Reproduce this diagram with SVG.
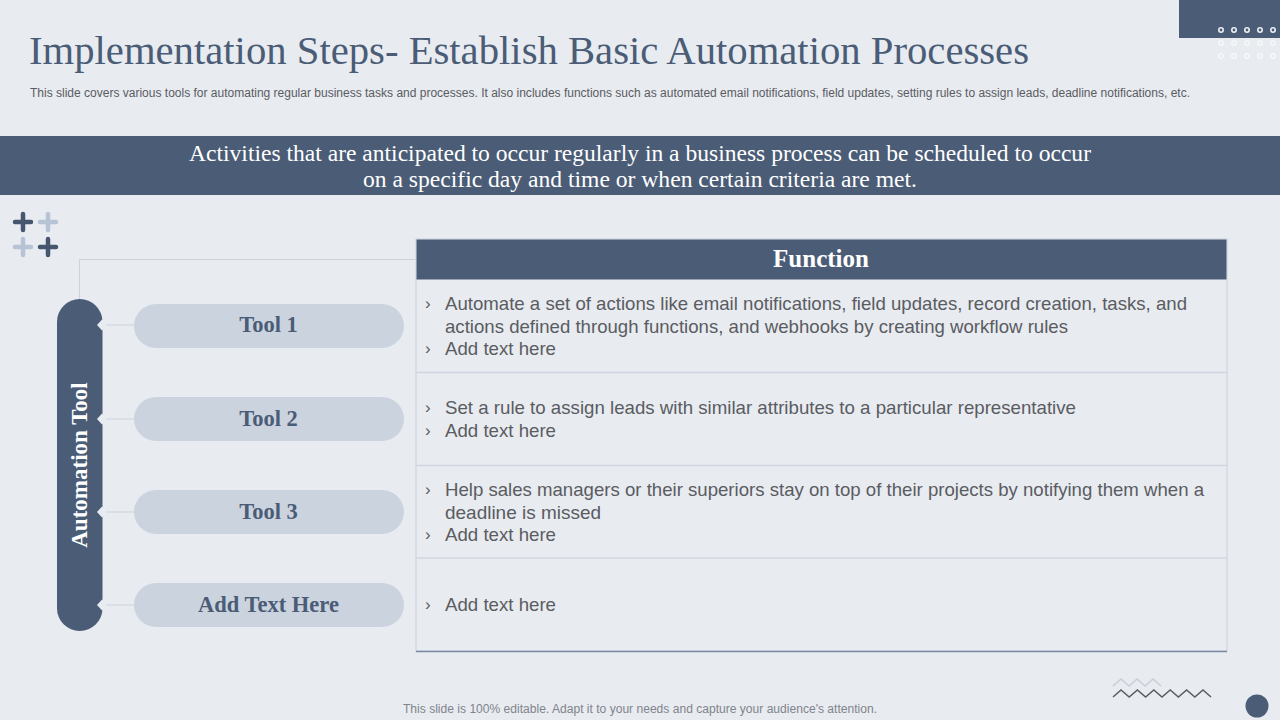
<svg xmlns="http://www.w3.org/2000/svg" width="1280" height="720" viewBox="0 0 1280 720">
<style>
.s{font-family:"Liberation Sans",Arial,sans-serif}
.f{font-family:"Liberation Serif","Times New Roman",serif}
.b{font-family:"Liberation Sans",Arial,sans-serif;font-size:19px;fill:#5a5c62}
.c{font-family:"Liberation Sans",Arial,sans-serif;font-size:17px;fill:#5a5c62}
.t{font-family:"Liberation Serif",serif;font-size:22.500px;font-weight:700;fill:#4a5c76;text-anchor:middle}
.pill{fill:#cbd3df}
.lnk{fill:none;stroke:#cdd2da;stroke-width:1}
.dm{fill:#e8ebf1}
.row{fill:none;stroke:#d0d6e0;stroke-width:1.3}
.d1{fill:none;stroke:#eef0f4;stroke-width:1.6}
.d2{fill:none;stroke:#f6f7f9;stroke-width:1.6}
.dk{fill:none;stroke:#46566f;stroke-width:4.500;stroke-linecap:round}
.lt{fill:none;stroke:#b6c3d5;stroke-width:4.500;stroke-linecap:round}
</style>
<rect width="1280" height="720" fill="#e8ebf0"/>
<g id="header">
<rect x="1179" y="0" width="101" height="38" fill="#4a5c76"/>
<g class="d1"><circle cx="1221" cy="30" r="2.2"/><circle cx="1234" cy="30" r="2.2"/><circle cx="1247" cy="30" r="2.2"/><circle cx="1260" cy="30" r="2.2"/><circle cx="1273" cy="30" r="2.2"/></g>
<g class="d2"><circle cx="1221" cy="43" r="2.2"/><circle cx="1234" cy="43" r="2.2"/><circle cx="1247" cy="43" r="2.2"/><circle cx="1260" cy="43" r="2.2"/><circle cx="1273" cy="43" r="2.2"/><circle cx="1221" cy="56" r="2.2"/><circle cx="1234" cy="56" r="2.2"/><circle cx="1247" cy="56" r="2.2"/><circle cx="1260" cy="56" r="2.2"/><circle cx="1273" cy="56" r="2.2"/></g>
<text x="29" y="64" class="f" font-size="40" fill="#4a5c76" textLength="1000" lengthAdjust="spacingAndGlyphs">Implementation Steps- Establish Basic Automation Processes</text>
<text x="30" y="97" class="s" font-size="12.500" fill="#5a5c62" textLength="1160" lengthAdjust="spacingAndGlyphs">This slide covers various tools for automating regular business tasks and processes. It also includes functions such as automated email notifications, field updates, setting rules to assign leads, deadline notifications, etc.</text>
</g>
<g id="banner">
<rect x="0" y="136" width="1280" height="59" fill="#4a5c76"/>
<text x="640" y="160.500" class="f" font-size="24" fill="#fff" text-anchor="middle" textLength="902" lengthAdjust="spacingAndGlyphs">Activities that are anticipated to occur regularly in a business process can be scheduled to occur</text>
<text x="640" y="186.500" class="f" font-size="24" fill="#fff" text-anchor="middle" textLength="554" lengthAdjust="spacingAndGlyphs">on a specific day and time or when certain criteria are met.</text>
</g>
<g id="plus-icons">
<path class="dk" d="M15 222H31M23 214V230M40 247H56M48 239V255"/>
<path class="lt" d="M40 222H56M48 214V230M15 247H31M23 239V255"/>
</g>
<g id="connectors">
<path class="lnk" d="M79.500 300V259.500H416"/>
<path class="lnk" d="M104 325H135M104 419H135M104 512H135M104 605H135"/>
</g>
<g id="automation-tool">
<rect x="57" y="299" width="45.500" height="332" rx="22.750" fill="#4a5c76"/>
<text transform="translate(87 465) rotate(-90)" class="f" font-size="23" font-weight="700" fill="#fff" text-anchor="middle">Automation Tool</text>
</g>
<g id="diamonds" class="dm">
<path d="M97 325l5-5.500 5 5.500-5 5.500zM97 419l5-5.500 5 5.500-5 5.500zM97 512l5-5.500 5 5.500-5 5.500zM97 605l5-5.500 5 5.500-5 5.500z"/>
</g>
<g id="tool-1"><rect class="pill" x="134" y="304" width="270" height="44" rx="22"/><text class="t" x="268.500" y="332">Tool 1</text></g>
<g id="tool-2"><rect class="pill" x="134" y="397" width="270" height="44" rx="22"/><text class="t" x="268.500" y="426">Tool 2</text></g>
<g id="tool-3"><rect class="pill" x="134" y="490" width="270" height="44" rx="22"/><text class="t" x="268.500" y="519">Tool 3</text></g>
<g id="tool-4"><rect class="pill" x="134" y="583" width="270" height="44" rx="22"/><text class="t" x="268.500" y="612">Add Text Here</text></g>
<g id="function-table">
<rect x="416" y="239" width="811" height="412" fill="none" stroke="#d0d6e0" stroke-width="1.3"/>
<path class="row" d="M416 372.500H1227M416 465.500H1227M416 558H1227"/>
<path d="M416 651.500H1227" stroke="#7d8aa3" stroke-width="1.600" fill="none"/>
<rect x="416.500" y="239.500" width="810" height="40" fill="#4a5c76"/>
<text x="821" y="267" class="f" font-size="25" font-weight="700" fill="#fff" text-anchor="middle">Function</text>
</g>
<g id="row-1">
<text class="c" x="425" y="309">›</text><text class="b" x="445" y="310" textLength="742" lengthAdjust="spacingAndGlyphs">Automate a set of actions like email notifications, field updates, record creation, tasks, and</text>
<text class="b" x="445" y="333" textLength="623" lengthAdjust="spacingAndGlyphs">actions defined through functions, and webhooks by creating workflow rules</text>
<text class="c" x="425" y="354">›</text><text class="b" x="445" y="355" textLength="111" lengthAdjust="spacingAndGlyphs">Add text here</text>
</g>
<g id="row-2">
<text class="c" x="425" y="413">›</text><text class="b" x="445" y="414" textLength="631" lengthAdjust="spacingAndGlyphs">Set a rule to assign leads with similar attributes to a particular representative</text>
<text class="c" x="425" y="436">›</text><text class="b" x="445" y="437" textLength="111" lengthAdjust="spacingAndGlyphs">Add text here</text>
</g>
<g id="row-3">
<text class="c" x="425" y="495">›</text><text class="b" x="445" y="496" textLength="759" lengthAdjust="spacingAndGlyphs">Help sales managers or their superiors stay on top of their projects by notifying them when a</text>
<text class="b" x="445" y="519" textLength="156" lengthAdjust="spacingAndGlyphs">deadline is missed</text>
<text class="c" x="425" y="540">›</text><text class="b" x="445" y="541" textLength="111" lengthAdjust="spacingAndGlyphs">Add text here</text>
</g>
<g id="row-4">
<text class="c" x="425" y="610">›</text><text class="b" x="445" y="611" textLength="111" lengthAdjust="spacingAndGlyphs">Add text here</text>
</g>
<g id="footer">
<text x="640" y="713" class="s" font-size="12" fill="#80848c" text-anchor="middle" textLength="474" lengthAdjust="spacingAndGlyphs">This slide is 100% editable. Adapt it to your needs and capture your audience's attention.</text>
<path d="M1113 686l8-7 8 7 8-7 8 7 8-7 8 7" fill="none" stroke="#c9ced7" stroke-width="1.500"/>
<path d="M1113 697l8-7 8.200 7 8.200-7 8.200 7 8.200-7 8.200 7 8.200-7 8.200 7 8.200-7 8.200 7 8.200-7 8 7" fill="none" stroke="#5a5c62" stroke-width="1.500"/>
<circle cx="1257" cy="706" r="11.500" fill="#4a5c76"/>
</g>
</svg>
